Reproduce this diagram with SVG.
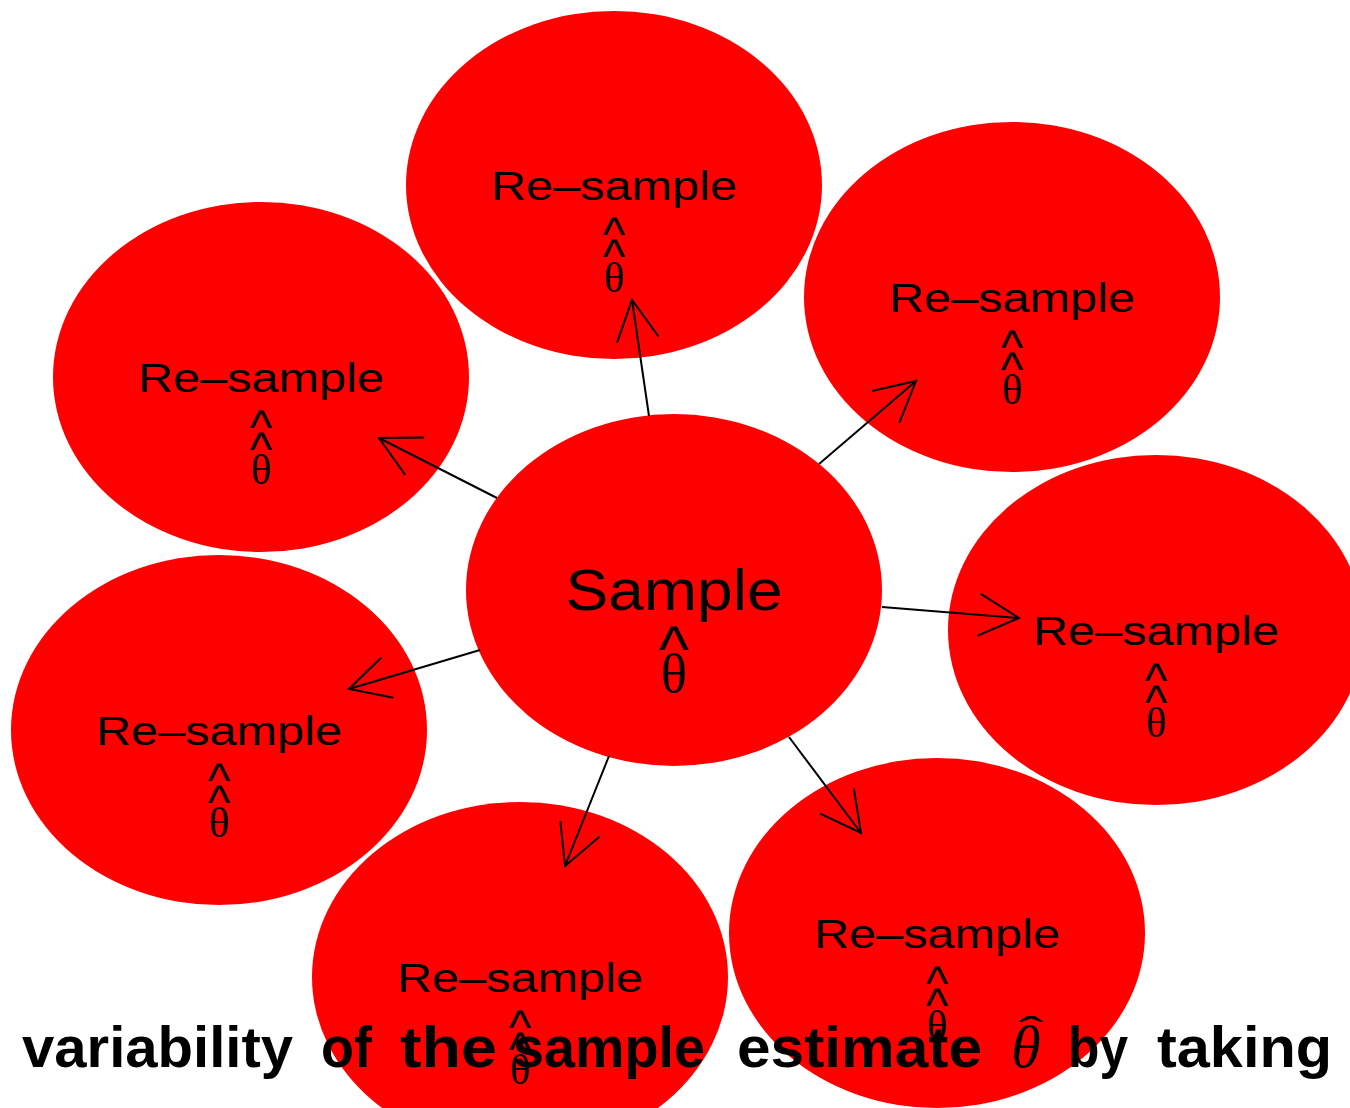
<svg xmlns="http://www.w3.org/2000/svg" width="1350" height="1108" viewBox="0 0 1350 1108">
<style>
.node ellipse{fill:#ff0000;stroke:none}
.lbl{font-family:"Liberation Sans",Arial,sans-serif;font-size:40px;text-anchor:middle;fill:#000}
.car{font-family:"Liberation Sans",Arial,sans-serif;font-size:48px;text-anchor:middle;fill:#000}
.th{font-family:"Liberation Serif","Times New Roman",serif;font-size:43px;text-anchor:middle;fill:#000}
.edge line{stroke:#000;stroke-width:2;fill:none}
.cap{font-family:"Liberation Sans",Arial,sans-serif;font-size:57px;font-weight:bold;fill:#000}
</style>
<defs>
<marker id="ah" markerUnits="userSpaceOnUse" markerWidth="60" markerHeight="60" viewBox="-50 -30 60 60" refX="0" refY="0" orient="auto" overflow="visible">
<path d="M -40 -21 L 0 0 L -40 21" fill="none" stroke="#000" stroke-width="2"/>
</marker>
</defs>
<rect width="1350" height="1108" fill="#fff"/>
<g id="shapes">
<g id="n-top" class="node"><ellipse cx="614" cy="185" rx="208" ry="174"/></g>
<g id="n-upright" class="node"><ellipse cx="1012" cy="297" rx="208" ry="175"/></g>
<g id="n-upleft" class="node"><ellipse cx="261" cy="377" rx="208" ry="175"/></g>
<g id="n-right" class="node"><ellipse cx="1156" cy="630" rx="208" ry="175"/></g>
<g id="n-left" class="node"><ellipse cx="219" cy="730" rx="208" ry="175"/></g>
<g id="n-botleft" class="node"><ellipse cx="520" cy="977" rx="208" ry="175"/></g>
<g id="n-botright" class="node"><ellipse cx="937" cy="933" rx="208" ry="175"/></g>
<g id="n-center" class="node"><ellipse cx="674" cy="590" rx="208" ry="176"/></g>
</g>
<g id="connectors" class="edge">
<line x1="649" y1="416" x2="632" y2="300" marker-end="url(#ah)"/>
<line x1="819" y1="464" x2="916" y2="381" marker-end="url(#ah)"/>
<line x1="497" y1="498" x2="379" y2="438" marker-end="url(#ah)"/>
<line x1="882" y1="607" x2="1019" y2="618" marker-end="url(#ah)"/>
<line x1="480" y1="650" x2="349" y2="689" marker-end="url(#ah)"/>
<line x1="609" y1="756" x2="565" y2="866" marker-end="url(#ah)"/>
<line x1="789" y1="737" x2="861" y2="833" marker-end="url(#ah)"/>
</g>
<g id="labels">
<g id="t-center">
<text x="674" y="610" class="lbl" style="font-size:57px" textLength="217" lengthAdjust="spacingAndGlyphs">Sample</text>
<text x="674" y="671" class="car" style="font-size:64px">^</text>
<text x="674" y="692" class="th" style="font-size:55px">θ</text>
</g>
<g id="t-top">
<text x="614" y="200" class="lbl" textLength="246" lengthAdjust="spacingAndGlyphs">Re–sample</text>
<text x="614" y="251" class="car">^</text>
<text x="614" y="273" class="car">^</text>
<text x="614" y="292" class="th">θ</text>
</g>
<g id="t-upright">
<text x="1012" y="312" class="lbl" textLength="246" lengthAdjust="spacingAndGlyphs">Re–sample</text>
<text x="1012" y="364" class="car">^</text>
<text x="1012" y="386" class="car">^</text>
<text x="1012" y="404" class="th">θ</text>
</g>
<g id="t-upleft">
<text x="261" y="392" class="lbl" textLength="246" lengthAdjust="spacingAndGlyphs">Re–sample</text>
<text x="261" y="444" class="car">^</text>
<text x="261" y="466" class="car">^</text>
<text x="261" y="484" class="th">θ</text>
</g>
<g id="t-right">
<text x="1156" y="645" class="lbl" textLength="246" lengthAdjust="spacingAndGlyphs">Re–sample</text>
<text x="1156" y="697" class="car">^</text>
<text x="1156" y="719" class="car">^</text>
<text x="1156" y="737" class="th">θ</text>
</g>
<g id="t-left">
<text x="219" y="745" class="lbl" textLength="246" lengthAdjust="spacingAndGlyphs">Re–sample</text>
<text x="219" y="797" class="car">^</text>
<text x="219" y="819" class="car">^</text>
<text x="219" y="837" class="th">θ</text>
</g>
<g id="t-botleft">
<text x="520" y="992" class="lbl" textLength="246" lengthAdjust="spacingAndGlyphs">Re–sample</text>
<text x="520" y="1044" class="car">^</text>
<text x="520" y="1066" class="car">^</text>
<text x="520" y="1084" class="th">θ</text>
</g>
<g id="t-botright">
<text x="937" y="948" class="lbl" textLength="246" lengthAdjust="spacingAndGlyphs">Re–sample</text>
<text x="937" y="1000" class="car">^</text>
<text x="937" y="1022" class="car">^</text>
<text x="937" y="1040" class="th">θ</text>
</g>
</g>
<g id="caption">
<text class="cap" x="22" y="1067" textLength="271" lengthAdjust="spacingAndGlyphs">variability</text>
<text class="cap" x="321" y="1067" textLength="51" lengthAdjust="spacingAndGlyphs">of</text>
<text class="cap" x="400" y="1067" textLength="97" lengthAdjust="spacingAndGlyphs">the</text>
<text class="cap" x="513" y="1067" textLength="192" lengthAdjust="spacingAndGlyphs">sample</text>
<text class="cap" x="737" y="1067" textLength="245" lengthAdjust="spacingAndGlyphs">estimate</text>
<text x="1026" y="1067" style="font-family:'Liberation Serif','Times New Roman',serif;font-style:italic;font-size:60px;text-anchor:middle">θ</text>
<text x="0" y="0" style="font-family:'Liberation Serif','Times New Roman',serif;font-size:50px;text-anchor:middle" transform="translate(1031 1044) scale(1.5 0.8)">ˆ</text>
<text class="cap" x="1068" y="1067" textLength="60" lengthAdjust="spacingAndGlyphs">by</text>
<text class="cap" x="1157" y="1067" textLength="175" lengthAdjust="spacingAndGlyphs">taking</text>
</g>
</svg>
